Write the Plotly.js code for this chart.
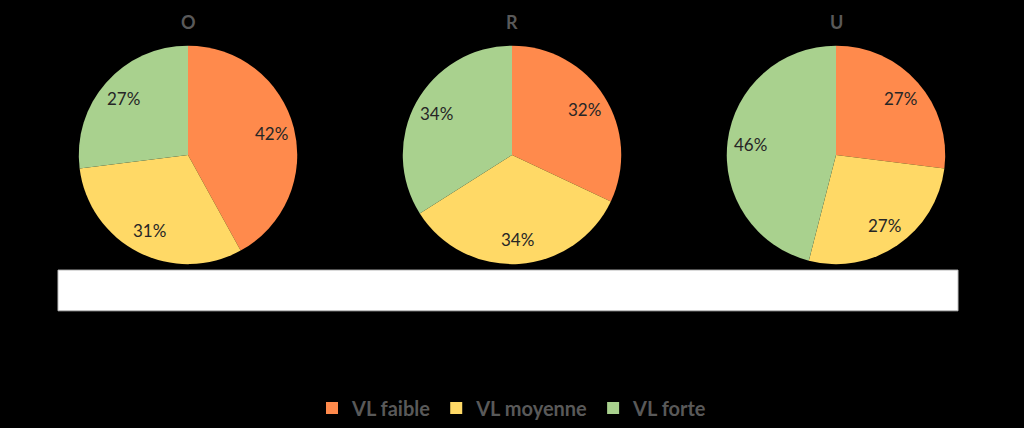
<!DOCTYPE html>
<html>
<head>
<meta charset="utf-8">
<script src="https://cdn.plot.ly/plotly-3.0.1.min.js"></script>
<style>html,body{margin:0;padding:0;background:#000;}#chart{width:1024px;height:428px;}</style>
</head>
<body>
<div id="chart"></div>
<script>
const categories = ["VL faible", "VL moyenne", "VL forte"];
const groups = ["O", "R", "U"];
const valuesO = [42, 31, 27];
const valuesR = [32, 34, 34];
const valuesU = [27, 27, 46];
const colors = ["#FF8A4C", "#FFD966", "#A9D18E"];

const allValues = [valuesO, valuesR, valuesU];
const W = 1024, H = 428;
const domainsX = [[78/W, 298/W], [402/W, 622/W], [726/W, 946/W]];
const domainY = [1 - 266/H, 1 - 46/H];
const labelFont = {family: "Lato, Open Sans, sans-serif", size: 17, color: "#262626"};

const traces = allValues.map((vals, i) => ({
  type: "pie",
  labels: categories,
  values: vals,
  sort: false,
  direction: "clockwise",
  rotation: 0,
  domain: {x: domainsX[i], y: domainY},
  marker: {colors: colors, line: {width: 0}},
  textinfo: "none",
  hoverinfo: "label+percent",
  showlegend: i === 0
}));

// Percent labels placed along each slice's mid-angle (derived from the data)
const annotations = [];
allValues.forEach((vals, i) => {
  const total = vals.reduce((a, b) => a + b, 0);
  const cx = (domainsX[i][0] + domainsX[i][1]) / 2 * W;
  const cy = (1 - (domainY[0] + domainY[1]) / 2) * H;
  const R = (domainsX[i][1] - domainsX[i][0]) * W / 2;
  let cum = 0;
  vals.forEach((v) => {
    const mid = (cum + v / 2) / total * 2 * Math.PI;
    cum += v;
    const k = 0.78;
    const px = cx + k * R * Math.sin(mid);
    const py = cy - k * R * Math.cos(mid);
    annotations.push({
      text: Math.round(v / total * 100) + "%",
      x: px / W, y: 1 - py / H,
      xref: "paper", yref: "paper",
      xanchor: "center", yanchor: "middle",
      showarrow: false,
      font: labelFont
    });
  });
  annotations.push({
    text: "<b>" + groups[i] + "</b>",
    x: cx / W,
    y: 1 - 22 / H,
    xref: "paper", yref: "paper",
    xanchor: "center", yanchor: "middle",
    showarrow: false,
    font: {family: "Lato, Open Sans, sans-serif", size: 18, color: "#595959"}
  });
});

const layout = {
  width: W, height: H,
  margin: {l: 0, r: 0, t: 0, b: 0},
  paper_bgcolor: "#000000",
  plot_bgcolor: "#000000",
  showlegend: true,
  legend: {
    orientation: "h",
    x: 0.5, xanchor: "center",
    y: 1 - 411 / H, yanchor: "middle",
    font: {family: "Lato, Open Sans, sans-serif", size: 20, color: "#595959", weight: "bold"},
    bgcolor: "rgba(0,0,0,0)",
    traceorder: "normal"
  },
  shapes: [{
    type: "rect", xref: "paper", yref: "paper",
    x0: 58 / W, x1: 958 / W, y0: 1 - 313 / H, y1: 1 - 272 / H,
    fillcolor: "#FFFFFF", line: {color: "#BFBFBF", width: 1}
  }],
  annotations: annotations
};

Plotly.newPlot("chart", traces, layout, {displayModeBar: false, staticPlot: true});
</script>
</body>
</html>
